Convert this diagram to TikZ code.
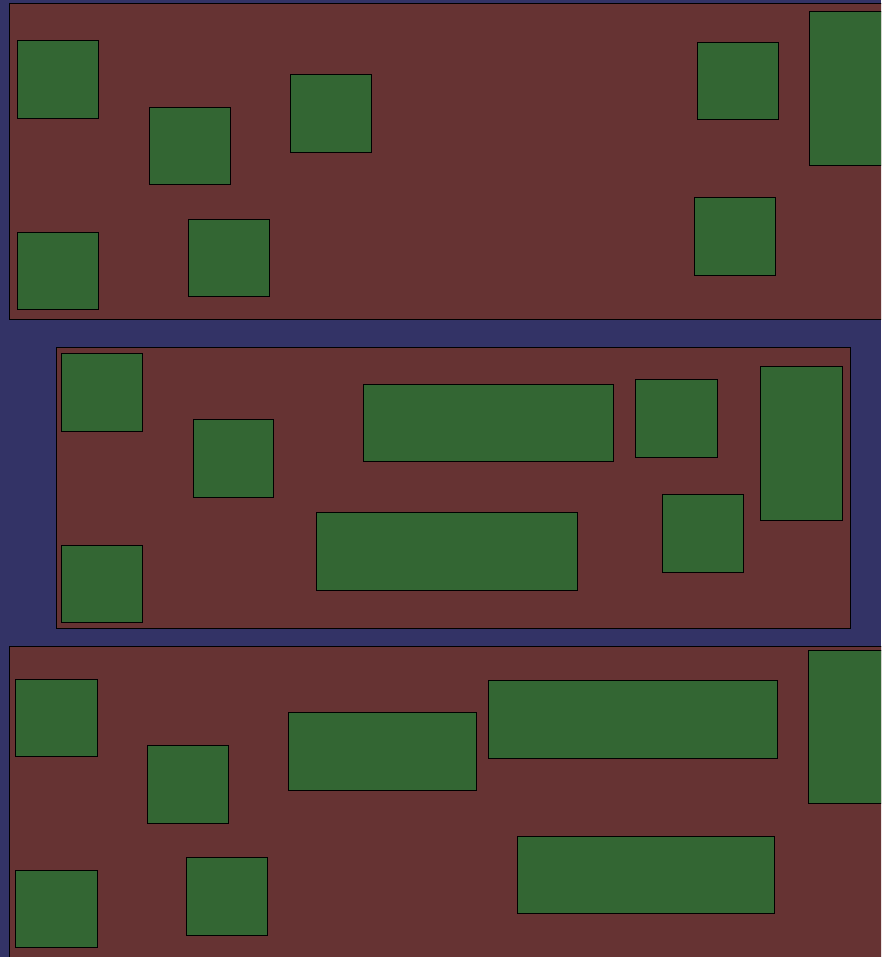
\documentclass[tikz,border=0pt]{standalone}
\usepackage{xcolor}
\usepackage{tikz}
\definecolor{sea}{RGB}{51,51,102}
\definecolor{soil}{RGB}{102,51,51}
\definecolor{leaf}{RGB}{51,102,51}
\tikzset{
  panel/.style={draw=black, fill=soil, line width=0.9pt},
  plot/.style={draw=black, fill=leaf, line width=0.9pt}
}

\begin{document}
\begin{tikzpicture}[x=1pt, y=-1pt]
  \useasboundingbox (0,0) rectangle (881,957);
  \clip (0,0) rectangle (881,957);
  \fill[sea] (0,0) rectangle (881,957);
  % three panels
  \draw[panel] (9,3) rectangle (900,319);
  \draw[panel] (56,347) rectangle (850,628);
  \draw[panel] (9,646) rectangle (900,980);
  % top panel
  \foreach \xa/\ya/\xb/\yb in {17/40/98/118, 149/107/230/184, 290/74/371/152,
      17/232/98/309, 188/219/269/296, 697/42/778/119, 694/197/775/275, 809/11/890/165}
    \draw[plot] (\xa,\ya) rectangle (\xb,\yb);
  % middle panel
  \foreach \xa/\ya/\xb/\yb in {61/353/142/431, 193/419/273/497, 363/384/613/461,
      635/379/717/457, 760/366/842/520, 662/494/743/572, 316/512/577/590, 61/545/142/622}
    \draw[plot] (\xa,\ya) rectangle (\xb,\yb);
  % bottom panel
  \foreach \xa/\ya/\xb/\yb in {15/679/97/756, 147/745/228/823, 288/712/476/790,
      488/680/777/758, 808/650/890/803, 15/870/97/947, 186/857/267/935, 517/836/774/913}
    \draw[plot] (\xa,\ya) rectangle (\xb,\yb);
\end{tikzpicture}
\end{document}
